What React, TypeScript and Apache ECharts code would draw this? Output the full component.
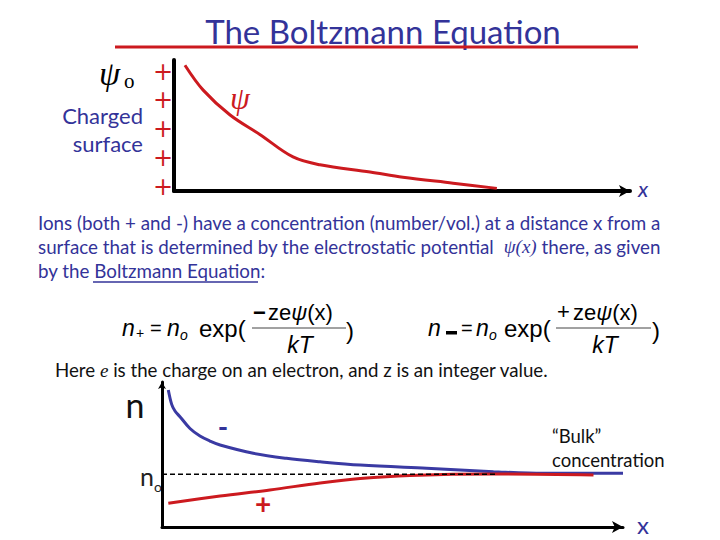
import React, { useEffect, useRef } from "react";
import * as echarts from "echarts";

// Top panel: electrostatic potential psi(x) decaying from the charged surface
const psiX = [2.4, 6.4, 12.3, 18.9, 26.1, 32, 43, 50.2, 61.2, 70.8];
const psiY = [9.6, 7.7, 5.8, 4.3, 2.6, 2.0, 1.45, 1.05, 0.6, 0.2];

// Bottom panel: ion concentrations vs distance
const negX = [1.37, 2.1, 2.82, 3.9, 6.07, 8.24, 10.41, 12.6, 19.8, 27.0, 34.3, 43.0, 57.4, 71.9, 82.7, 100];
const negY = [10.39, 9.3, 8.8, 8.37, 7.47, 6.9, 6.52, 6.22, 5.59, 5.21, 4.95, 4.7, 4.45, 4.2, 4.07, 4.07];
const posX = [1.37, 12.6, 23.4, 34.3, 43.0, 53.8, 71.9, 93.6];
const posY = [1.8, 2.35, 2.81, 3.34, 3.68, 3.91, 4.02, 3.95];
const bulkX = [0, 72.7];
const bulkLevel = 4;

const titleText = "The Boltzmann Equation";
const paragraph = [
  "Ions (both + and -) have a concentration (number/vol.) at a distance x from a",
  "surface that is determined by the electrostatic potential  {i|ψ(x)} there, as given",
  "by the Boltzmann Equation:",
];
const noteText = "Here {i|e} is the charge on an electron, and z is an integer value.";

const BLUE = "#333399";
const RED = "#cc1a1f";
const SANS = "Lato";
const MATH = "Liberation Sans";
const SERIF = "Liberation Serif";

function txt(x: number, y: number, text: string, style: any) {
  return {
    type: "text",
    x,
    y,
    silent: true,
    style: { text, verticalAlign: "middle", align: "left", ...style },
  };
}

export default function App() {
  const ref = useRef<HTMLDivElement>(null);
  useEffect(() => {
    if (!ref.current) return;
    const chart = echarts.init(ref.current, undefined, { renderer: "svg" });

    const plusYs = [72, 100, 129, 158, 187];
    const graphics: any[] = [
      txt(383, 31, titleText, { fontFamily: SANS, fontSize: 33, fill: BLUE, align: "center" }),
      { type: "line", shape: { x1: 115, y1: 47, x2: 638, y2: 47 }, style: { stroke: RED, lineWidth: 3 } },
      // psi_o and charged surface
      txt(99, 73, "ψ", { fontFamily: SERIF, fontStyle: "italic", fontSize: 34, fill: "#000" }),
      txt(124, 81, "o", { fontFamily: SERIF, fontSize: 21, fill: "#000" }),
      txt(143, 115, "Charged", { fontFamily: SANS, fontSize: 22, fill: BLUE, align: "right" }),
      txt(143, 143, "surface", { fontFamily: SANS, fontSize: 22, fill: BLUE, align: "right" }),
      ...plusYs.map((y) => txt(163, y, "+", { fontFamily: "DejaVu Sans", fontSize: 24, fill: RED, align: "center" })),
      txt(240, 98, "ψ", { fontFamily: SERIF, fontStyle: "italic", fontSize: 32, fill: RED, align: "center" }),
      txt(643, 188, "x", { fontFamily: SANS, fontStyle: "italic", fontSize: 22, fill: BLUE, align: "center" }),
      // paragraph
      ...paragraph.map((line, i) =>
        txt(38, 222 + i * 24, line, {
          fontFamily: SANS,
          fontSize: 18.8,
          fill: BLUE,
          rich: { i: { fontFamily: SERIF, fontStyle: "italic", fontSize: 19, fill: BLUE } },
        })
      ),
      { type: "line", shape: { x1: 93, y1: 282, x2: 258, y2: 282 }, style: { stroke: BLUE, lineWidth: 1.6 } },
      // equation 1
      txt(122, 328, "n", { fontFamily: MATH, fontStyle: "italic", fontSize: 23, fill: "#000" }),
      txt(136, 333, "+", { fontFamily: MATH, fontSize: 14, fill: "#000" }),
      txt(150, 328, "=", { fontFamily: MATH, fontSize: 20, fill: "#000" }),
      txt(167, 328, "n", { fontFamily: MATH, fontStyle: "italic", fontSize: 23, fill: "#000" }),
      txt(180, 335, "o", { fontFamily: MATH, fontStyle: "italic", fontSize: 14, fill: "#000" }),
      txt(199, 328, "exp(", { fontFamily: MATH, fontSize: 24, fill: "#000" }),
      txt(253, 312, "−", { fontFamily: MATH, fontSize: 22, fontWeight: "bold", fill: "#000" }),
      txt(268, 312, "ze{i|ψ}(x)", {
        fontFamily: MATH,
        fontSize: 22,
        fill: "#000",
        rich: { i: { fontFamily: MATH, fontStyle: "italic", fontSize: 22, fill: "#000" } },
      }),
      { type: "line", shape: { x1: 252, y1: 328, x2: 346, y2: 328 }, style: { stroke: "#444", lineWidth: 1 } },
      txt(300, 345, "kT", { fontFamily: MATH, fontStyle: "italic", fontSize: 23, fill: "#000", align: "center" }),
      txt(346, 330, ")", { fontFamily: MATH, fontSize: 24, fill: "#000" }),
      // equation 2
      txt(428, 328, "n", { fontFamily: MATH, fontStyle: "italic", fontSize: 23, fill: "#000" }),
      { type: "rect", shape: { x: 446, y: 331, width: 11, height: 3.5 }, style: { fill: "#000" } },
      txt(461, 328, "=", { fontFamily: MATH, fontSize: 20, fill: "#000" }),
      txt(476, 328, "n", { fontFamily: MATH, fontStyle: "italic", fontSize: 23, fill: "#000" }),
      txt(489, 335, "o", { fontFamily: MATH, fontStyle: "italic", fontSize: 14, fill: "#000" }),
      txt(504, 328, "exp(", { fontFamily: MATH, fontSize: 24, fill: "#000" }),
      txt(557, 311, "+", { fontFamily: MATH, fontSize: 22, fill: "#000" }),
      txt(573, 312, "ze{i|ψ}(x)", {
        fontFamily: MATH,
        fontSize: 22,
        fill: "#000",
        rich: { i: { fontFamily: MATH, fontStyle: "italic", fontSize: 22, fill: "#000" } },
      }),
      { type: "line", shape: { x1: 556, y1: 328, x2: 651, y2: 328 }, style: { stroke: "#444", lineWidth: 1 } },
      txt(605, 345, "kT", { fontFamily: MATH, fontStyle: "italic", fontSize: 23, fill: "#000", align: "center" }),
      txt(652, 330, ")", { fontFamily: MATH, fontSize: 24, fill: "#000" }),
      // note
      txt(55, 370, noteText, {
        fontFamily: SANS,
        fontSize: 18.7,
        fill: "#111",
        rich: { i: { fontFamily: SERIF, fontStyle: "italic", fontSize: 19, fill: "#111" } },
      }),
      // bottom panel labels
      txt(135, 404, "n", { fontFamily: SANS, fontSize: 34, fill: "#111", align: "center" }),
      txt(147, 476, "n", { fontFamily: SANS, fontSize: 25, fill: "#222", align: "center" }),
      txt(158, 486, "o", { fontFamily: SANS, fontSize: 14, fill: "#222", align: "center" }),
      txt(223, 426, "-", { fontFamily: SANS, fontSize: 28, fontWeight: "bold", fill: BLUE, align: "center" }),
      txt(263, 503, "+", { fontFamily: SANS, fontSize: 28, fontWeight: "bold", fill: RED, align: "center" }),
      txt(552, 436, "“Bulk”", { fontFamily: SANS, fontSize: 18.5, fill: "#111" }),
      txt(552, 460, "concentration", { fontFamily: SANS, fontSize: 18.5, fill: "#111" }),
      txt(643, 524, "x", { fontFamily: SANS, fontSize: 24, fill: BLUE, align: "center" }),
    ];

    const hiddenAxisBits = {
      axisTick: { show: false },
      axisLabel: { show: false },
      splitLine: { show: false },
    };

    chart.setOption({
      animation: false,
      backgroundColor: "#ffffff",
      grid: [
        { left: 174, top: 60, width: 456, height: 131 },
        { left: 162, top: 382, width: 461, height: 145 },
      ],
      xAxis: [
        {
          type: "value", gridIndex: 0, min: 0, max: 100, ...hiddenAxisBits,
          axisLine: { onZero: false, symbol: ["none", "arrow"], symbolSize: [9, 11], lineStyle: { color: "#000", width: 4 } },
        },
        {
          type: "value", gridIndex: 1, min: 0, max: 100, ...hiddenAxisBits,
          axisLine: { onZero: false, symbol: ["none", "arrow"], symbolSize: [9, 11], lineStyle: { color: "#000", width: 3 } },
        },
      ],
      yAxis: [
        {
          type: "value", gridIndex: 0, min: 0, max: 10, ...hiddenAxisBits,
          axisLine: { onZero: false, lineStyle: { color: "#000", width: 4 } },
        },
        {
          type: "value", gridIndex: 1, min: 0, max: 11, ...hiddenAxisBits,
          axisLine: { onZero: false, symbol: ["none", "arrow"], symbolSize: [6, 7], lineStyle: { color: "#000", width: 3 } },
        },
      ],
      series: [
        {
          type: "line", xAxisIndex: 0, yAxisIndex: 0, smooth: 0.35, symbol: "none",
          data: psiX.map((x, i) => [x, psiY[i]]),
          lineStyle: { color: RED, width: 3 },
        },
        {
          type: "line", xAxisIndex: 1, yAxisIndex: 1, smooth: 0.35, symbol: "none",
          data: negX.map((x, i) => [x, negY[i]]),
          lineStyle: { color: "#3a3aa3", width: 3 },
        },
        {
          type: "line", xAxisIndex: 1, yAxisIndex: 1, smooth: 0.35, symbol: "none",
          data: posX.map((x, i) => [x, posY[i]]),
          lineStyle: { color: RED, width: 3 },
        },
        {
          type: "line", xAxisIndex: 1, yAxisIndex: 1, symbol: "none", z: 5,
          data: bulkX.map((x) => [x, bulkLevel]),
          lineStyle: { color: "#000", width: 1.5, type: [5, 3] },
        },
      ],
      graphic: graphics,
    });

    return () => chart.dispose();
  }, []);

  return (
    <div
      ref={ref}
      style={{ position: "fixed", left: 0, top: 0, width: 720, height: 540, background: "#fff" }}
    />
  );
}
